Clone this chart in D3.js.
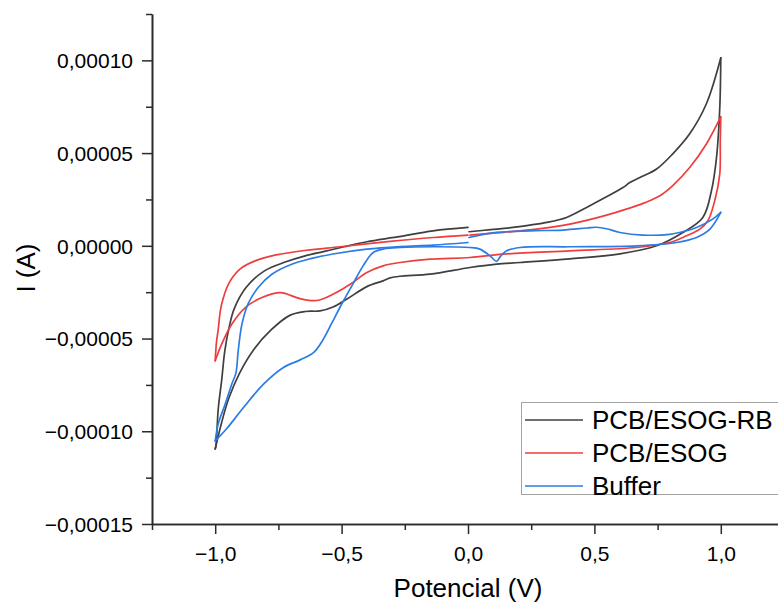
<!DOCTYPE html>
<html>
<head>
<meta charset="utf-8">
<script src="https://cdn.jsdelivr.net/npm/d3@7"></script>
<style>
  html, body { margin: 0; padding: 0; background: #fff; }
  svg text { font-family: "Liberation Sans", Arial, "DejaVu Sans", sans-serif; fill: #000; }
</style>
</head>
<body>
<svg id="chart" width="778" height="603"></svg>
<script>
// Cyclic voltammograms: each series is [potential (V), current (µA)] in scan order
// 0 V -> +1 V -> -1 V -> 0 V.
const seriesNames = ["PCB/ESOG-RB", "PCB/ESOG", "Buffer"];
const seriesColors = ["#3f3f3f", "#ef3d3d", "#2b7ce4"];

const esogRb = [
  [0.004, 7.6], [0.09, 8.7], [0.178, 9.9], [0.311, 12.6], [0.390, 15.3], [0.469, 20.7],
  [0.548, 26.4], [0.613, 31.4], [0.640, 34.1], [0.680, 36.8], [0.746, 41.4], [0.810, 49.6],
  [0.877, 60.4], [0.943, 76.6], [1.0, 101.4],
  [0.996, 74.6], [0.983, 47.6], [0.963, 29.7], [0.929, 15.3], [0.850, 7.2], [0.746, 0.0],
  [0.601, -4.3], [0.403, -7.0], [0.206, -9.0], [0.113, -9.9], [0.008, -11.7], [-0.150, -15.3],
  [-0.269, -16.4], [-0.308, -17.3], [-0.336, -18.9], [-0.400, -22.0], [-0.479, -28.7],
  [-0.534, -33.0], [-0.585, -35.1], [-0.644, -35.4], [-0.705, -37.5], [-0.780, -45.5],
  [-0.845, -55.5], [-0.905, -69.0], [-0.947, -82.5], [-0.974, -95.0], [-1.0, -109.5],
  [-0.997, -108.0], [-0.988, -88.0], [-0.974, -72.0], [-0.962, -56.6], [-0.945, -44.0],
  [-0.925, -34.0], [-0.878, -22.5], [-0.805, -13.5], [-0.720, -8.6], [-0.644, -5.4],
  [-0.568, -3.0], [-0.490, -0.5], [-0.400, 2.2], [-0.280, 4.8], [-0.138, 8.1], [0.0, 9.9]
];

const esog = [
  [0.008, 5.8], [0.140, 7.3], [0.272, 9.0], [0.403, 11.7], [0.534, 16.0], [0.620, 19.5],
  [0.700, 23.3], [0.759, 27.0], [0.810, 32.5], [0.877, 42.2], [0.943, 54.9], [1.0, 69.6],
  [0.998, 56.6], [0.996, 38.8], [0.976, 24.3], [0.949, 13.5], [0.917, 9.0], [0.864, 5.4],
  [0.798, 1.8], [0.667, -0.9], [0.403, -2.7], [0.138, -4.5], [0.008, -6.3], [-0.150, -7.2],
  [-0.269, -9.0], [-0.336, -10.8], [-0.400, -14.4], [-0.466, -20.7], [-0.534, -26.1],
  [-0.598, -29.5], [-0.664, -28.5], [-0.743, -25.2], [-0.815, -27.9], [-0.881, -33.3],
  [-0.934, -42.2], [-0.974, -52.9], [-1.0, -62.0],
  [-0.995, -52.0], [-0.988, -45.0], [-0.976, -32.4], [-0.945, -20.0], [-0.901, -12.4],
  [-0.842, -8.1], [-0.759, -4.9], [-0.640, -2.4], [-0.506, -0.5], [-0.308, 2.4],
  [-0.138, 4.5], [0.0, 5.8]
];

const buffer = [
  [0.004, 4.5], [0.113, 7.2], [0.245, 8.1], [0.375, 8.5], [0.470, 9.6], [0.509, 10.0],
  [0.548, 9.2], [0.601, 7.2], [0.692, 5.8], [0.798, 6.2], [0.864, 8.1], [0.904, 9.9],
  [0.968, 14.4], [1.0, 18.0],
  [0.957, 9.0], [0.904, 4.5], [0.825, 1.8], [0.667, 0.0], [0.403, -0.5], [0.206, -0.9],
  [0.153, -2.7], [0.130, -5.4], [0.113, -8.4], [0.087, -5.4], [0.047, -1.8], [0.008, -0.9],
  [-0.138, -0.5], [-0.269, -0.9], [-0.330, -1.6], [-0.375, -3.6], [-0.415, -10.8],
  [-0.455, -20.5], [-0.500, -31.5], [-0.540, -42.0], [-0.575, -51.0], [-0.610, -57.5],
  [-0.664, -61.5], [-0.730, -65.6], [-0.809, -74.6], [-0.888, -87.2], [-0.954, -98.5],
  [-1.0, -105.2],
  [-0.988, -96.0], [-0.960, -85.2], [-0.934, -74.4], [-0.918, -68.5], [-0.909, -56.6],
  [-0.894, -42.1], [-0.870, -31.3], [-0.830, -22.5], [-0.776, -15.3], [-0.697, -9.9],
  [-0.618, -6.8], [-0.534, -4.4], [-0.400, -1.8], [-0.269, -0.4], [-0.138, 0.4], [0.0, 1.8]
];

const seriesData = [esogRb, esog, buffer];

const xMajorTicks = [-1.0, -0.5, 0.0, 0.5, 1.0];
const xMinorTicks = [-1.25, -0.75, -0.25, 0.25, 0.75, 1.25];
const yMajorTicks = [-0.00015, -0.0001, -0.00005, 0, 0.00005, 0.0001];
const yMinorTicks = [-0.000125, -0.000075, -0.000025, 0.000025, 0.000075, 0.000125];

const svg = d3.select("#chart");

const x = d3.scaleLinear().domain([-1.25, 1.25]).range([152, 784]);
const y = d3.scaleLinear().domain([-0.00015, 0.000125]).range([524, 14]);

const minus = s => s.replace(/-/g, "\u2212");
const fmtX = v => minus(d3.format(".1f")(v).replace(".", ","));
const fmtY = v => minus(d3.format(".5f")(Math.abs(v) < 1e-12 ? 0 : v).replace(".", ","));

const axisColor = "#2b2b2b";

// x axis
const xAxisG = svg.append("g").attr("transform", `translate(0,${y(-0.00015)})`);
xAxisG.call(d3.axisBottom(x).tickValues(xMinorTicks).tickSize(6).tickSizeOuter(0).tickFormat(""));
xAxisG.append("g").call(d3.axisBottom(x).tickValues(xMajorTicks).tickSize(10).tickSizeOuter(0).tickFormat(fmtX));

// y axis
const yAxisG = svg.append("g").attr("transform", `translate(${x(-1.25)},0)`);
yAxisG.call(d3.axisLeft(y).tickValues(yMinorTicks).tickSize(6).tickSizeOuter(0).tickFormat(""));
yAxisG.append("g").call(d3.axisLeft(y).tickValues(yMajorTicks).tickSize(10).tickSizeOuter(0).tickFormat(fmtY));

svg.selectAll(".domain").attr("stroke", axisColor).attr("stroke-width", 1.6);
svg.selectAll(".tick line").attr("stroke", axisColor).attr("stroke-width", 1.5);
svg.selectAll(".tick text").attr("font-size", 21).attr("fill", "#000")
  .attr("font-family", '"Liberation Sans", Arial, sans-serif');
xAxisG.selectAll(".tick text").attr("y", 22).attr("dy", "0.71em");
yAxisG.selectAll(".tick text").attr("x", -19).attr("dy", "0.35em");

// axis titles
svg.append("text")
  .attr("x", x(0)).attr("y", 597)
  .attr("text-anchor", "middle").attr("font-size", 26)
  .text("Potencial (V)");
svg.append("text")
  .attr("transform", `translate(35,${y(-0.000012)}) rotate(-90)`)
  .attr("text-anchor", "middle").attr("font-size", 26)
  .text("I (A)");

// curves: split each voltammogram at its vertex potentials so the turning points stay sharp
const line = d3.line()
  .x(d => x(d[0]))
  .y(d => y(d[1] * 1e-6))
  .curve(d3.curveCatmullRom.alpha(0.5));

seriesData.forEach((pts, i) => {
  const iMax = d3.maxIndex(pts, d => d[0]);
  const iMin = d3.minIndex(pts, d => d[0]);
  const branches = [pts.slice(0, iMax + 1), pts.slice(iMax, iMin + 1), pts.slice(iMin)];
  branches.forEach(b => {
    svg.append("path")
      .datum(b)
      .attr("d", line)
      .attr("fill", "none")
      .attr("stroke", seriesColors[i])
      .attr("stroke-width", 1.7)
      .attr("stroke-linejoin", "round")
      .attr("stroke-linecap", "round");
  });
});

// legend
const legend = svg.append("g");
legend.append("rect")
  .attr("x", 521.5).attr("y", 402.5).attr("width", 290).attr("height", 92)
  .attr("fill", "#fff").attr("stroke", "#a3a3a3").attr("stroke-width", 1);
seriesNames.forEach((name, i) => {
  const cy = 420 + i * 33;
  legend.append("line")
    .attr("x1", 525).attr("x2", 583).attr("y1", cy).attr("y2", cy)
    .attr("stroke", seriesColors[i]).attr("stroke-width", 1.7);
  legend.append("text")
    .attr("x", 592).attr("y", cy).attr("dy", "0.36em")
    .attr("font-size", 26)
    .text(name);
});
</script>
</body>
</html>
